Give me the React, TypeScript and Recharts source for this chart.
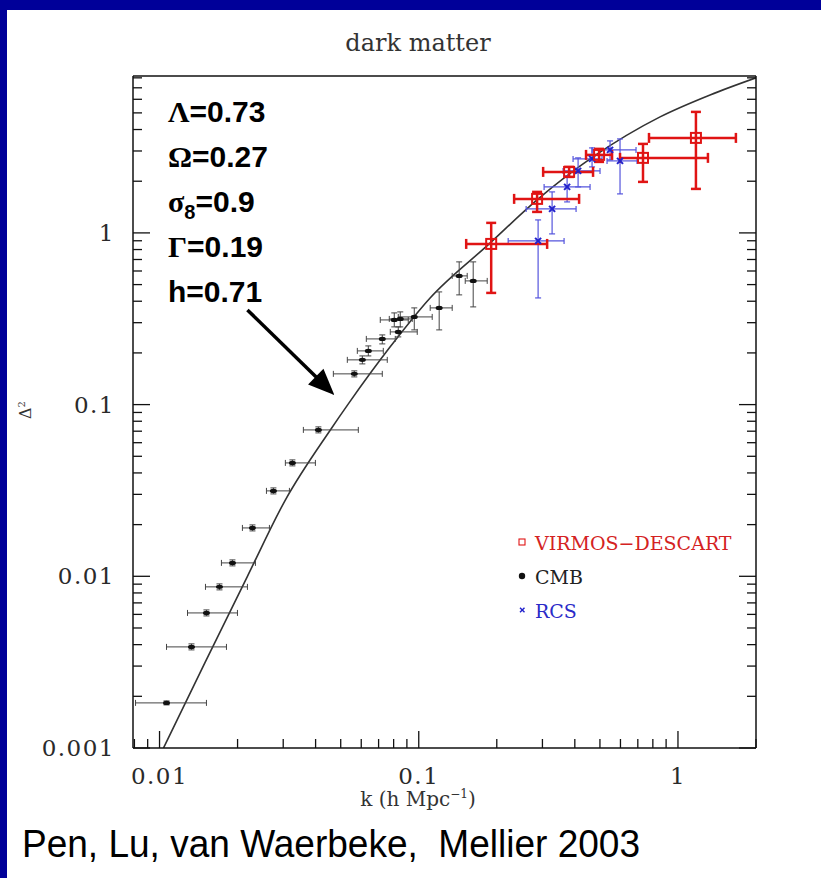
import React from "react";
import { ComposedChart, Line, Scatter, XAxis, YAxis, ErrorBar, ReferenceLine, Legend } from "recharts";

// ---------- theory curve ----------
const curveK = [0.01036, 0.01502, 0.02183, 0.0306, 0.0456, 0.0535, 0.0776, 0.1106, 0.1869, 0.286, 0.47, 0.853, 1.33, 2.0];
const curveDelta = [0.001, 0.00317, 0.01, 0.0279, 0.0712, 0.101, 0.217, 0.418, 0.863, 1.557, 2.77, 4.74, 6.36, 8.0];

// ---------- CMB ----------
const cmbK = [0.01064, 0.01328, 0.01517, 0.01703, 0.01911, 0.02283, 0.0275, 0.03255, 0.041, 0.05641, 0.06059, 0.06389, 0.07233, 0.08337, 0.08046, 0.08485, 0.0961, 0.1199, 0.1432, 0.1622];
const cmbKLo = [0.00808, 0.01064, 0.01282, 0.01504, 0.01733, 0.02088, 0.02585, 0.03058, 0.03588, 0.04683, 0.05302, 0.05794, 0.06277, 0.07766, 0.07105, 0.07697, 0.08337, 0.1107, 0.1346, 0.1511];
const cmbKHi = [0.01517, 0.01812, 0.01998, 0.02183, 0.02344, 0.02654, 0.0317, 0.03993, 0.05846, 0.07233, 0.07561, 0.07298, 0.08117, 0.09867, 0.0911, 0.09441, 0.1127, 0.1346, 0.1538, 0.1837];
const cmbD = [0.001831, 0.00388, 0.006119, 0.008678, 0.01197, 0.01913, 0.03144, 0.04575, 0.07122, 0.151, 0.1822, 0.2055, 0.2413, 0.2651, 0.3113, 0.3155, 0.3241, 0.3658, 0.5618, 0.5254];
const cmbDLo = [0.001782, 0.003727, 0.005878, 0.008334, 0.0115, 0.01838, 0.03019, 0.04396, 0.06842, 0.145, 0.1726, 0.1921, 0.2257, 0.2479, 0.2835, 0.2835, 0.2723, 0.2723, 0.4355, 0.3707];
const cmbDHi = [0.00188, 0.00404, 0.006371, 0.009031, 0.01246, 0.01992, 0.03272, 0.04764, 0.07417, 0.1572, 0.1921, 0.2197, 0.2546, 0.2835, 0.342, 0.3467, 0.3658, 0.4532, 0.6779, 0.6779];

// ---------- VIRMOS-DESCART ----------
const vdK = [0.1903, 0.2861, 0.3802, 0.4962, 0.733, 1.173];
const vdKLo = [0.1524, 0.2333, 0.3019, 0.4419, 0.5977, 0.7731];
const vdKHi = [0.3128, 0.4155, 0.4703, 0.5568, 1.305, 1.673];
const vdD = [0.8626, 1.578, 2.266, 2.847, 2.735, 3.575];
const vdDLo = [0.4472, 1.325, 2.119, 2.591, 1.982, 1.804];
const vdDHi = [1.144, 1.733, 2.423, 3.086, 3.299, 5.067];

// ---------- RCS ----------
const rcsK = [0.2887, 0.3269, 0.3735, 0.4118, 0.4662, 0.547, 0.5977];
const rcsKLo = [0.2213, 0.2596, 0.3045, 0.3604, 0.3938, 0.4662, 0.5326];
const rcsKHi = [0.3636, 0.4045, 0.458, 0.5004, 0.5094, 0.689, 0.695];
const rcsD = [0.8983, 1.38, 1.853, 2.297, 2.698, 3.044, 2.626];
const rcsDLo = [0.4181, 0.9867, 1.515, 1.853, 2.423, 2.662, 1.687];
const rcsDHi = [1.19, 1.733, 2.148, 2.735, 3.126, 3.434, 3.527];

// ---------- axes ----------
const xDomain = [0.0079, 2];
const yDomain = [0.001, 8.2];
const xTicks = [0.008, 0.009, 0.01, 0.02, 0.03, 0.04, 0.05, 0.06, 0.07, 0.08, 0.09, 0.1, 0.2, 0.3, 0.4, 0.5, 0.6, 0.7, 0.8, 0.9, 1, 2];
const yTicks = [0.001, 0.002, 0.003, 0.004, 0.005, 0.006, 0.007, 0.008, 0.009, 0.01, 0.02, 0.03, 0.04, 0.05, 0.06, 0.07, 0.08, 0.09, 0.1, 0.2, 0.3, 0.4, 0.5, 0.6, 0.7, 0.8, 0.9, 1, 2, 3, 4, 5, 6, 7, 8];
const xMajor = [0.01, 0.1, 1];
const xMajorLabels = ["0.01", "0.1", "1"];
const yMajor = [0.001, 0.01, 0.1, 1];
const yMajorLabels = ["0.001", "0.01", "0.1", "1"];

const seriesNames = ["VIRMOS\u2212DESCART", "CMB", "RCS"];
const paramLines = [
  { greek: "\u039B", rest: "=0.73" },
  { greek: "\u03A9", rest: "=0.27" },
  { greek: "\u03C3", sub: "8", rest: "=0.9" },
  { greek: "\u0393", rest: "=0.19" },
  { greek: "", rest: "h=0.71" },
];
const arrowFrom = { x: 0.02183, y: 0.356 };
const arrowTo = { x: 0.04725, y: 0.1139 };

const RED = "#e01414";
const BLUE = "#2222cc";
const BLUE_BAR = "#5555dd";
const SERIF = "'DejaVu Serif', serif";
const SANS = "'Liberation Sans', Arial, sans-serif";

const build = (k: number[], kLo: number[], kHi: number[], d: number[], dLo: number[], dHi: number[]) =>
  k.map((kv, i) => ({
    k: kv,
    d: d[i],
    ex: [kv - kLo[i], kHi[i] - kv],
    ey: [d[i] - dLo[i], dHi[i] - d[i]],
  }));

const curveData = curveK.map((k, i) => ({ k, d: curveDelta[i] }));
const cmbData = build(cmbK, cmbKLo, cmbKHi, cmbD, cmbDLo, cmbDHi);
const vdData = build(vdK, vdKLo, vdKHi, vdD, vdDLo, vdDHi);
const rcsData = build(rcsK, rcsKLo, rcsKHi, rcsD, rcsDLo, rcsDHi);

const majorIdx = (arr: number[], v: number) => arr.findIndex((m) => Math.abs(m - v) / m < 1e-6);

const MAJ = 17;
const MIN = 9;
const AX = "#111";

const BottomTick = (p: any) => {
  const i = majorIdx(xMajor, p.payload.value);
  const len = i >= 0 ? MAJ : MIN;
  return (
    <g>
      <line x1={p.x} y1={p.y} x2={p.x} y2={p.y - len} stroke={AX} strokeWidth={1.3} />
      {i >= 0 && (
        <text x={p.x} y={p.y + 36} textAnchor="middle" fontFamily={SERIF} fontSize={23} letterSpacing={1.5} fill="#2a2a2a">
          {xMajorLabels[i]}
        </text>
      )}
    </g>
  );
};
const TopTick = (p: any) => {
  const i = majorIdx(xMajor, p.payload.value);
  const len = i >= 0 ? MAJ : MIN;
  return <line x1={p.x} y1={p.y} x2={p.x} y2={p.y + len} stroke={AX} strokeWidth={1.3} />;
};
const LeftTick = (p: any) => {
  const i = majorIdx(yMajor, p.payload.value);
  const len = i >= 0 ? MAJ : MIN;
  return (
    <g>
      <line x1={p.x} y1={p.y} x2={p.x + len} y2={p.y} stroke={AX} strokeWidth={1.3} />
      {i >= 0 && (
        <text x={p.x - 18} y={p.y + 8} textAnchor="end" fontFamily={SERIF} fontSize={23} letterSpacing={1.5} fill="#2a2a2a">
          {yMajorLabels[i]}
        </text>
      )}
    </g>
  );
};
const RightTick = (p: any) => {
  const i = majorIdx(yMajor, p.payload.value);
  const len = i >= 0 ? MAJ : MIN;
  return <line x1={p.x} y1={p.y} x2={p.x - len} y2={p.y} stroke={AX} strokeWidth={1.3} />;
};

const SquareShape = (p: any) => (
  <rect x={p.cx - 5} y={p.cy - 5} width={10} height={10} fill="none" stroke={RED} strokeWidth={2} />
);
const DotShape = (p: any) => <ellipse cx={p.cx} cy={p.cy} rx={3.5} ry={2.2} fill="#111" />;
const CrossShape = (p: any) => (
  <g stroke={BLUE} strokeWidth={2}>
    <line x1={p.cx - 3} y1={p.cy - 3} x2={p.cx + 3} y2={p.cy + 3} />
    <line x1={p.cx - 3} y1={p.cy + 3} x2={p.cx + 3} y2={p.cy - 3} />
  </g>
);

const ArrowShape = (p: any) => {
  const { x1, y1, x2, y2 } = p;
  const dx = x2 - x1;
  const dy = y2 - y1;
  const L = Math.sqrt(dx * dx + dy * dy) || 1;
  const ux = dx / L;
  const uy = dy / L;
  const head = 26;
  const hw = 11;
  const bx = x2 - ux * head;
  const by = y2 - uy * head;
  return (
    <g>
      <line x1={x1} y1={y1} x2={bx + ux * 2} y2={by + uy * 2} stroke="#000" strokeWidth={3.5} />
      <polygon points={`${x2},${y2} ${bx - uy * hw},${by + ux * hw} ${bx + uy * hw},${by - ux * hw}`} fill="#000" />
    </g>
  );
};

const legendColors: Record<string, string> = {
  "VIRMOS\u2212DESCART": "#d42222",
  CMB: "#222",
  RCS: "#2a2ac8",
};

const renderLegend = (props: any) => {
  const payload = (props.payload || []).filter((it: any) => seriesNames.includes(it.value));
  payload.sort((a: any, b: any) => seriesNames.indexOf(a.value) - seriesNames.indexOf(b.value));
  return (
    <svg width={240} height={100} style={{ display: "block" }}>
      {payload.map((it: any, i: number) => {
        const cy = 12 + i * 34;
        let marker: React.ReactNode = null;
        if (it.value === seriesNames[0])
          marker = <rect x={7} y={cy - 3} width={6} height={6} fill="none" stroke={RED} strokeWidth={1.1} />;
        else if (it.value === seriesNames[1]) marker = <circle cx={10} cy={cy} r={3.2} fill="#111" />;
        else
          marker = (
            <g stroke={BLUE} strokeWidth={1.4}>
              <line x1={8} y1={cy - 2.3} x2={12.5} y2={cy + 2.3} />
              <line x1={8} y1={cy + 2.3} x2={12.5} y2={cy - 2.3} />
            </g>
          );
        return (
          <g key={it.value}>
            {marker}
            <text x={23} y={cy + 8} fontFamily={SERIF} fontSize={19} fill={legendColors[it.value] || "#222"}>
              {it.value}
            </text>
          </g>
        );
      })}
    </svg>
  );
};

export default function App() {
  return (
    <div style={{ position: "absolute", left: 0, top: 0, width: 821, height: 878, background: "#000099", overflow: "hidden" }}>
      <div style={{ position: "absolute", left: 7, top: 10, width: 814, height: 868, background: "#ffffff" }} />
      <div style={{ position: "absolute", left: 0, top: 0 }}>
        <ComposedChart width={821} height={878} margin={{ top: 46, left: 73, right: 5, bottom: 100 }}>
          <XAxis
            xAxisId={0}
            dataKey="k"
            type="number"
            scale="log"
            domain={xDomain}
            allowDataOverflow
            ticks={xTicks}
            interval={0}
            tickSize={0}
            tickMargin={0}
            tickLine={false}
            tick={BottomTick}
            height={30}
            axisLine={{ stroke: AX, strokeWidth: 1.5 }}
          />
          <XAxis
            xAxisId="top"
            orientation="top"
            type="number"
            scale="log"
            domain={xDomain}
            allowDataOverflow
            ticks={xTicks}
            interval={0}
            tickSize={0}
            tickMargin={0}
            tickLine={false}
            tick={TopTick}
            height={30}
            axisLine={{ stroke: AX, strokeWidth: 1.5 }}
          />
          <YAxis
            yAxisId={0}
            dataKey="d"
            type="number"
            scale="log"
            domain={yDomain}
            allowDataOverflow
            ticks={yTicks}
            interval={0}
            tickSize={0}
            tickMargin={0}
            tickLine={false}
            tick={LeftTick}
            width={60}
            axisLine={{ stroke: AX, strokeWidth: 1.5 }}
          />
          <YAxis
            yAxisId="right"
            orientation="right"
            type="number"
            scale="log"
            domain={yDomain}
            allowDataOverflow
            ticks={yTicks}
            interval={0}
            tickSize={0}
            tickMargin={0}
            tickLine={false}
            tick={RightTick}
            width={60}
            axisLine={{ stroke: AX, strokeWidth: 1.5 }}
          />
          <Line
            data={curveData}
            dataKey="d"
            type="monotone"
            stroke="#333"
            strokeWidth={1.6}
            dot={false}
            activeDot={false}
            legendType="none"
            isAnimationActive={false}
          />
          <Scatter name={seriesNames[1]} data={cmbData} dataKey="d" fill="#111" shape={DotShape} isAnimationActive={false}>
            <ErrorBar dataKey="ex" direction="x" width={3} stroke="#444" strokeWidth={1} isAnimationActive={false} />
            <ErrorBar dataKey="ey" direction="y" width={3} stroke="#444" strokeWidth={1} isAnimationActive={false} />
          </Scatter>
          <Scatter name={seriesNames[2]} data={rcsData} dataKey="d" fill={BLUE} shape={CrossShape} isAnimationActive={false}>
            <ErrorBar dataKey="ex" direction="x" width={3} stroke={BLUE_BAR} strokeWidth={1.2} isAnimationActive={false} />
            <ErrorBar dataKey="ey" direction="y" width={3} stroke={BLUE_BAR} strokeWidth={1.2} isAnimationActive={false} />
          </Scatter>
          <Scatter name={seriesNames[0]} data={vdData} dataKey="d" fill={RED} shape={SquareShape} isAnimationActive={false}>
            <ErrorBar dataKey="ex" direction="x" width={5} stroke={RED} strokeWidth={2.5} isAnimationActive={false} />
            <ErrorBar dataKey="ey" direction="y" width={5} stroke={RED} strokeWidth={2.5} isAnimationActive={false} />
          </Scatter>
          <ReferenceLine segment={[arrowFrom, arrowTo]} shape={ArrowShape} ifOverflow="visible" />
          <Legend
            layout="vertical"
            align="center"
            verticalAlign="middle"
            content={renderLegend}
            wrapperStyle={{ left: 512, top: 530, width: 240, height: 100 }}
          />
        </ComposedChart>
      </div>
      <svg width={821} height={878} style={{ position: "absolute", left: 0, top: 0, pointerEvents: "none" }}>
        <text x={418} y={51} textAnchor="middle" fontFamily={SERIF} fontSize={24} fill="#333">
          dark matter
        </text>
        <text x={418} y={806} textAnchor="middle" fontFamily={SERIF} fontSize={20} fill="#333">
          k (h Mpc
          <tspan fontSize={12} dy={-8}>
            {"\u22121"}
          </tspan>
          <tspan dy={8}>)</tspan>
        </text>
        <text transform="translate(31,410) rotate(-90)" textAnchor="middle" fontFamily={SERIF} fontSize={16} fill="#333">
          {"\u0394"}
          <tspan fontSize={10} dy={-6}>
            2
          </tspan>
        </text>
        {paramLines.map((ln, i) => (
          <text key={i} x={168} y={122 + i * 45} fontFamily={SANS} fontWeight="bold" fontSize={30} fill="#000">
            {ln.greek && (
              <tspan fontFamily="'Liberation Serif', serif" fontWeight="bold">
                {ln.greek}
              </tspan>
            )}
            {ln.sub && (
              <tspan fontSize={20} dy={7}>
                {ln.sub}
              </tspan>
            )}
            {ln.sub ? <tspan dy={-7}>{ln.rest}</tspan> : <tspan>{ln.rest}</tspan>}
          </text>
        ))}
        <text
          x={22}
          y={857}
          fontFamily={SANS}
          fontSize={38}
          fill="#000"
          textLength={618}
          lengthAdjust="spacingAndGlyphs"
          style={{ whiteSpace: "pre" }}
        >
          {"Pen, Lu, van Waerbeke,  Mellier 2003"}
        </text>
      </svg>
    </div>
  );
}
